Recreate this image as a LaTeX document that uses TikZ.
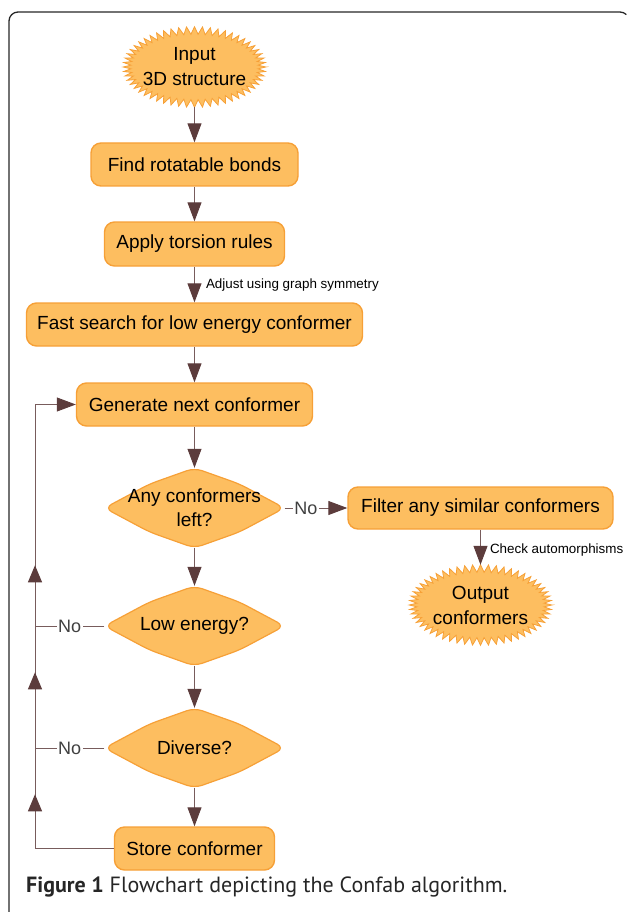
\documentclass[tikz,border=0pt]{standalone}
\usepackage{fontspec}
\setmainfont{Liberation Sans}
\newfontfamily\capfont{PT Sans}
\usetikzlibrary{arrows.meta,decorations.markings,shapes.geometric}
\definecolor{boxfill}{RGB}{253,190,96}
\definecolor{boxline}{RGB}{246,160,55}
\definecolor{arrline}{RGB}{120,92,92}
\definecolor{arrhead}{RGB}{92,60,60}
\tikzset{
  box/.style={rectangle, rounded corners=10pt, fill=boxfill, draw=boxline, line width=1.4pt,
    inner sep=0pt, font=\fontsize{19}{23}\selectfont, text=black},
  burstnode/.style={ellipse, draw=none, inner sep=0pt, minimum width=142pt, minimum height=80pt,
    align=center, font=\fontsize{19}{25}\selectfont},
  burstfill/.style={fill=boxfill, draw=boxline, line width=0.8pt, line join=miter},
  dianode/.style={rectangle, draw=none, inner sep=0pt, minimum width=180pt, minimum height=80pt,
    align=center, font=\fontsize{19}{24}\selectfont},
  diafill/.style={fill=boxfill, draw=boxline, line width=1.2pt, rounded corners=8pt},
  arr/.style={draw=arrline, line width=1pt, -{Triangle[length=19pt,width=14pt,color=arrhead,fill=arrhead]}},
  plain/.style={draw=arrline, line width=1pt},
  nolab/.style={fill=white, inner sep=1.5pt, text=black!75, font=\fontsize{18}{20}\selectfont},
  small/.style={font=\fontsize{13.4}{16}\selectfont, text=black, inner sep=0pt}
}
\newcommand\burst[3]{%
  \begin{scope}[shift={(#2)}]
  \path[burstfill] plot[domain=0:112, samples=113, variable=\k]
     ({(67.5+3.8*cos(180*mod(\k,2)))*cos(3.2142857*\k)},
      {(36.5+3.8*cos(180*mod(\k,2)))*sin(3.2142857*\k)}) -- cycle;
  \end{scope}
  \node[burstnode] (#1) at (#2) {#3};}
\newcommand\dia[5]{% name, x, y, halfwidth, text
  \path[diafill] (#2,#3-40) -- (#2-0.5*#4,#3-24) -- (#2-#4,#3) -- (#2-0.5*#4,#3+24)
     -- (#2,#3+40) -- (#2+0.5*#4,#3+24) -- (#2+#4,#3) -- (#2+0.5*#4,#3-24) -- cycle;
  \node[dianode] (#1) at (#2,#3) {#5};}
\begin{document}
\begin{tikzpicture}[x=1pt,y=-1pt]
\useasboundingbox (0,0) rectangle (629,912);
% frame
\draw[line width=1.3pt, black!85] (9,912) -- (9,21) arc[start angle=180,end angle=270,radius=9] -- (620,12)
   arc[start angle=-90,end angle=-45,radius=9];
% start
\burst{input}{194.5,67}{Input\\3D structure}
\node[box, minimum width=207pt, minimum height=43pt] (find) at (194.5,164.5) {Find rotatable bonds};
\node[box, minimum width=180pt, minimum height=44pt] (apply) at (194.5,244) {Apply torsion rules};
\node[box, minimum width=336pt, minimum height=43pt] (fast) at (194.5,324.5) {Fast search for low energy conformer};
\node[box, minimum width=236pt, minimum height=43pt] (gen) at (194.5,404.5) {Generate next conformer};
\dia{any}{194.5}{508}{90}{Any conformers\\left?}
\node[box, minimum width=265pt, minimum height=42pt] (filter) at (480.5,508) {Filter any similar conformers};
\burst{output}{480.5,605}{Output\\conformers}
\dia{low}{194.5}{626}{90}{Low energy?}
\dia{div}{194.5}{748}{90}{Diverse?}
\node[box, minimum width=160pt, minimum height=43pt] (store) at (194.5,848.5) {Store conformer};
% main arrows
\draw[arr] (input.south) -- (find.north);
\draw[arr] (find.south) -- (apply.north);
\draw[arr] (apply.south) -- node[small, anchor=west, xshift=11pt, yshift=-1pt]{Adjust using graph symmetry} (fast.north);
\draw[arr] (fast.south) -- (gen.north);
\draw[arr] (gen.south) -- (any.north);
\draw[arr] (any.south) -- (low.north);
\draw[arr] (low.south) -- (div.north);
\draw[arr] (div.south) -- (store.north);
\draw[arr] (any.east) -- node[nolab, pos=0.34]{No} (filter.west);
\draw[arr] (filter.south) -- node[small, anchor=west, xshift=9pt, yshift=-3pt]{Check automorphisms} (output.north);
% loop
\coordinate (lb) at (35,848.5);
\coordinate (lt) at (35,404.5);
\coordinate (jl) at (35,626);
\coordinate (jd) at (35,748);
\draw[arr, postaction={decorate}, decoration={markings,
    mark=at position 133pt with {\arrow{Triangle[length=17pt,width=14pt,color=arrhead,fill=arrhead]}},
    mark=at position 255pt with {\arrow{Triangle[length=17pt,width=14pt,color=arrhead,fill=arrhead]}},
    mark=at position 362pt with {\arrow{Triangle[length=17pt,width=14pt,color=arrhead,fill=arrhead]}}}]
  (store.west) -- (lb) -- (lt) -- (gen.west);
\draw[plain] (low.west) -- node[nolab]{No} (jl);
\draw[plain] (div.west) -- node[nolab]{No} (jd);
% caption
\node[anchor=base west, inner sep=0pt, font=\capfont\fontsize{22}{26}\selectfont, text=black!85] (cap) at (26,892)
  {\textbf{Figure 1} Flowchart depicting the Confab algorithm.};
\end{tikzpicture}
\end{document}
